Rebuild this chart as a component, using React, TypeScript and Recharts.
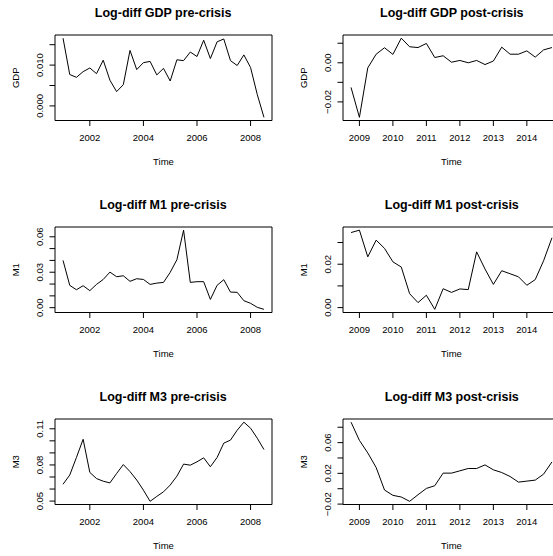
import React from 'react';
import { LineChart, Line, XAxis, YAxis, ReferenceArea, Label } from 'recharts';

// quarterly series
const gdpPre = [0.0166, 0.0077, 0.0070, 0.0084, 0.0093, 0.0079, 0.0112, 0.0063, 0.0035, 0.0052, 0.0136, 0.0089, 0.0106, 0.0109, 0.0076, 0.0092, 0.0061, 0.0113, 0.0111, 0.0132, 0.0121, 0.0161, 0.0116, 0.0157, 0.0164, 0.0111, 0.0099, 0.0125, 0.0094, 0.0028, -0.0028];
const gdpPost = [-0.0126, -0.0279, -0.0026, 0.0044, 0.0077, 0.0043, 0.0126, 0.0082, 0.0078, 0.0099, 0.0027, 0.0036, 0.0003, 0.0012, 0.0000, 0.0012, -0.0009, 0.0009, 0.0080, 0.0044, 0.0044, 0.0061, 0.0029, 0.0066, 0.0078];
const m1Pre = [0.0400, 0.0189, 0.0152, 0.0186, 0.0144, 0.0197, 0.0239, 0.0301, 0.0262, 0.0270, 0.0223, 0.0245, 0.0239, 0.0197, 0.0208, 0.0214, 0.0299, 0.0406, 0.0656, 0.0214, 0.0220, 0.0220, 0.0070, 0.0189, 0.0237, 0.0132, 0.0130, 0.0059, 0.0037, 0.0003, -0.0014];
const m1Post = [0.0346, 0.0357, 0.0234, 0.0311, 0.0273, 0.0211, 0.0187, 0.0064, 0.0023, 0.0057, -0.0008, 0.0087, 0.0070, 0.0086, 0.0083, 0.0257, 0.0178, 0.0107, 0.0170, 0.0156, 0.0142, 0.0103, 0.0129, 0.0216, 0.0322];
const m3Pre = [0.0640, 0.0716, 0.0862, 0.1013, 0.0738, 0.0687, 0.0665, 0.0651, 0.0729, 0.0803, 0.0745, 0.0675, 0.0591, 0.0498, 0.0539, 0.0577, 0.0633, 0.0707, 0.0807, 0.0798, 0.0826, 0.0859, 0.0785, 0.0862, 0.0981, 0.1006, 0.1088, 0.1155, 0.1105, 0.1022, 0.0928];
const m3Post = [0.0866, 0.0629, 0.0466, 0.0276, -0.0017, -0.0086, -0.0108, -0.0164, -0.0078, 0.0004, 0.0039, 0.0203, 0.0203, 0.0233, 0.0263, 0.0263, 0.0310, 0.0246, 0.0211, 0.0159, 0.0086, 0.0099, 0.0112, 0.0190, 0.0349];

const preStart = 2001;
const postStart = 2008.75;

const preYears = [2002, 2004, 2006, 2008];
const postYears = [2009, 2010, 2011, 2012, 2013, 2014];

const gdpPreTicks = [0, 0.005, 0.01, 0.015];
const gdpPreLabels = [0, 0.01];
const gdpPostTicks = [-0.02, -0.01, 0, 0.01];
const gdpPostLabels = [-0.02, 0];
const m1PreTicks = [0, 0.01, 0.02, 0.03, 0.04, 0.05, 0.06];
const m1PreLabels = [0, 0.03, 0.06];
const m1PostTicks = [0, 0.01, 0.02, 0.03];
const m1PostLabels = [0, 0.02];
const m3PreTicks = [0.05, 0.06, 0.07, 0.08, 0.09, 0.1, 0.11];
const m3PreLabels = [0.05, 0.08, 0.11];
const m3PostTicks = [-0.02, 0, 0.02, 0.04, 0.06, 0.08];
const m3PostLabels = [-0.02, 0.02, 0.06];

const FONT = '"Liberation Sans", Arial, Helvetica, sans-serif';
const PLOT_W = 217;
const PLOT_H = 85.5;
const AXIS_W = 55;
const TOP_PAD = 30;

const toTs = (values: number[], start: number) =>
    values.map((v, i) => ({ t: start + i / 4, v }));

// R style axis range: data range padded by 4% on each side
const padRange = (vals: number[]): [number, number] => {
    const lo = Math.min(...vals);
    const hi = Math.max(...vals);
    const d = (hi - lo) * 0.04;
    return [lo - d, hi + d];
};

interface PanelProps {
    title: string;
    ylab: string;
    values: number[];
    start: number;
    years: number[];
    yTicks: number[];
    yLabels: number[];
    digits: number;
    left: number;
    top: number;
}

function Panel({ title, ylab, values, start, years, yTicks, yLabels, digits, left, top }: PanelProps) {
    const data = toTs(values, start);
    const xDom = padRange(data.map((d) => d.t));
    const yDom = padRange(values);

    const fmt = (v: number) => {
        const s = v.toFixed(digits);
        return s.startsWith('-') ? '\u2212' + s.slice(1) : s;
    };

    const XTick = (props: any) => (
        <text x={props.x} y={props.y} textAnchor="middle" dominantBaseline="central" fontSize={9.5} fill="#000" fontFamily={FONT}>
            {props.payload.value}
        </text>
    );

    const YTick = (props: any) => {
        const val = props.payload.value;
        if (!yLabels.some((l) => Math.abs(l - val) < 1e-9)) return <g />;
        return (
            <text x={props.x} y={props.y} transform={`rotate(-90 ${props.x} ${props.y})`} textAnchor="middle" dominantBaseline="central" fontSize={9.5} fill="#000" fontFamily={FONT}>
                {fmt(val)}
            </text>
        );
    };

    return (
        <div style={{ position: 'absolute', left: left - AXIS_W, top: top - TOP_PAD }}>
            <div style={{ position: 'absolute', left: AXIS_W, top: TOP_PAD - 21.5 - 8, width: PLOT_W, height: 16, lineHeight: '16px', textAlign: 'center', fontFamily: FONT, fontWeight: 'bold', fontSize: 12.5, color: '#000' }}>
                {title}
            </div>
            <LineChart width={AXIS_W + PLOT_W + 10} height={TOP_PAD + PLOT_H + 55} data={data} margin={{ top: TOP_PAD, right: 10, left: 0, bottom: 0 }}>
                <XAxis dataKey="t" type="number" domain={xDom} ticks={years} interval={0} allowDataOverflow axisLine={false} tickLine={{ stroke: '#000' }} tickSize={5.5} tickMargin={11.5} tick={<XTick />} height={55}>
                    <Label content={(p: any) => (
                        <text x={p.viewBox.x + p.viewBox.width / 2} y={p.viewBox.y + 41} textAnchor="middle" dominantBaseline="central" fontSize={9.5} fontFamily={FONT} fill="#000">Time</text>
                    )} />
                </XAxis>
                <YAxis type="number" domain={yDom} ticks={yTicks} interval={0} allowDataOverflow axisLine={false} tickLine={{ stroke: '#000' }} tickSize={5.5} tickMargin={9.5} tick={<YTick />} width={AXIS_W}>
                    <Label content={(p: any) => {
                        const cx = p.viewBox.x + p.viewBox.width - 39.5;
                        const cy = p.viewBox.y + p.viewBox.height / 2;
                        return (
                            <text x={cx} y={cy} transform={`rotate(-90 ${cx} ${cy})`} textAnchor="middle" dominantBaseline="central" fontSize={9.5} fontFamily={FONT} fill="#000">{ylab}</text>
                        );
                    }} />
                </YAxis>
                <ReferenceArea x1={xDom[0]} x2={xDom[1]} y1={yDom[0]} y2={yDom[1]} fill="none" stroke="#000" strokeWidth={1} ifOverflow="visible" />
                <Line type="linear" dataKey="v" stroke="#000" strokeWidth={1} dot={false} isAnimationActive={false} />
            </LineChart>
        </div>
    );
}

export default function App() {
    const colL = 54.6;
    const colR = 343.3;
    const rows = [34.9, 226.7, 418.5];
    return (
        <div style={{ position: 'absolute', left: 0, top: 0, width: 553, height: 556, overflow: 'hidden', background: '#fff' }}>
            <Panel title="Log-diff GDP pre-crisis" ylab="GDP" values={gdpPre} start={preStart} years={preYears} yTicks={gdpPreTicks} yLabels={gdpPreLabels} digits={3} left={colL} top={rows[0]} />
            <Panel title="Log-diff GDP post-crisis" ylab="GDP" values={gdpPost} start={postStart} years={postYears} yTicks={gdpPostTicks} yLabels={gdpPostLabels} digits={2} left={colR} top={rows[0]} />
            <Panel title="Log-diff M1 pre-crisis" ylab="M1" values={m1Pre} start={preStart} years={preYears} yTicks={m1PreTicks} yLabels={m1PreLabels} digits={2} left={colL} top={rows[1]} />
            <Panel title="Log-diff M1 post-crisis" ylab="M1" values={m1Post} start={postStart} years={postYears} yTicks={m1PostTicks} yLabels={m1PostLabels} digits={2} left={colR} top={rows[1]} />
            <Panel title="Log-diff M3 pre-crisis" ylab="M3" values={m3Pre} start={preStart} years={preYears} yTicks={m3PreTicks} yLabels={m3PreLabels} digits={2} left={colL} top={rows[2]} />
            <Panel title="Log-diff M3 post-crisis" ylab="M3" values={m3Post} start={postStart} years={postYears} yTicks={m3PostTicks} yLabels={m3PostLabels} digits={2} left={colR} top={rows[2]} />
        </div>
    );
}
